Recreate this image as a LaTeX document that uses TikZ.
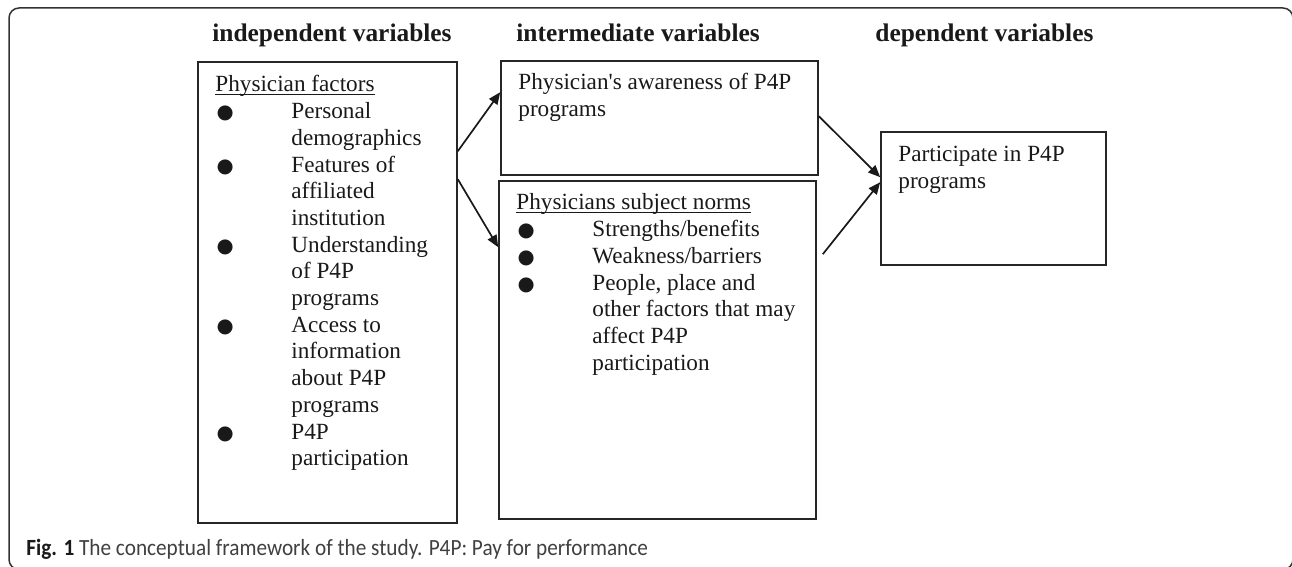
\documentclass[tikz,border=0pt]{standalone}
\usepackage{fontspec}
\setmainfont{Liberation Serif}
\newfontfamily\capfont[FakeStretch=0.916]{Carlito}
\newfontfamily\bulfont{DejaVu Sans}
\usepackage{tikz}
\usetikzlibrary{arrows.meta}
\usetikzlibrary{fit}

\newcommand{\undl}[1]{\leavevmode{\setbox0\hbox{#1}\rlap{\rule[-1.6pt]{\wd0}{0.55pt}}\box0}}
\newcommand{\bul}{\makebox[38pt][l]{\hspace{0.6pt}{\bulfont\fontsize{9.8pt}{10pt}\selectfont\char"25CF}}}
\newcommand{\ind}{\hspace*{38pt}}
\newcommand{\bodyfont}{\fontsize{11.6pt}{13.35pt}\selectfont}

\begin{document}
\begin{tikzpicture}[x=0.5pt,y=-0.5pt,box/.style={draw=black!85,line width=0.8pt,inner sep=0pt},frame/.style={draw=black!80,line width=0.75pt,rounded corners=5pt,inner sep=0pt},txt/.style={inner sep=0pt,anchor=base west,font=\bodyfont,text=black!90},head/.style={inner sep=0pt,anchor=base west,font=\fontsize{12.7pt}{14pt}\selectfont\bfseries,text=black!90},arr/.style={line width=0.85pt,black!90,-{Triangle[length=6pt,width=5pt]}}]

	\useasboundingbox (0,0) rectangle (1292,567);
	\node[frame,fit={(9,8) (1293,569.5)}] (border) {};
	
	\node[head] (hindep) at (212,42) {independent variables};
	\node[head] (hinter) at (516,42) {intermediate variables};
	\node[head] (hdep) at (875,42) {dependent variables};
	
	\node[box,fit={(198,62) (457,523)}] (indep) {};
	\node[box,fit={(501,61) (818,175)}] (aware) {};
	\node[box,fit={(499,181) (816,519)}] (norms) {};
	\node[box,fit={(881,132) (1106,265)}] (partic) {};
	
	\node[txt] (indeptext) at (215,92) {\parbox[t]{118pt}{\bodyfont\noindent
		\undl{Physician factors}\\
		\bul Personal\\
		\ind demographics\\
		\bul Features of\\
		\ind affiliated\\
		\ind institution\\
		\bul Understanding\\
		\ind of P4P\\
		\ind programs\\
		\bul Access to\\
		\ind information\\
		\ind about P4P\\
		\ind programs\\
		\bul P4P\\
		\ind participation}};
	\node[txt] (awaretext) at (518,90) {\parbox[t]{150pt}{\bodyfont\noindent
		Physician\textquotesingle s awareness of P4P\\
		programs}};
	\node[txt] (normstext) at (516,210) {\parbox[t]{150pt}{\bodyfont\noindent
		\undl{Physicians subject norms}\\
		\bul Strengths/benefits\\
		\bul Weakness/barriers\\
		\bul People, place and\\
		\ind other factors that may\\
		\ind affect P4P\\
		\ind participation}};
	\node[txt] (partictext) at (898,162) {\parbox[t]{100pt}{\bodyfont\noindent
		Participate in P4P\\
		programs}};
	
	\draw[arr] ([yshift=-45pt]indep.north east) -- ([yshift=-16pt]aware.north west);
	\draw[arr] ([yshift=-59pt]indep.north east) -- ([yshift=-33.5pt]norms.north west);
	\draw[arr] ([yshift=-28pt]aware.north east) -- ([yshift=-23pt]partic.north west);
	\draw[arr] ([xshift=3pt,yshift=-37pt]norms.north east) -- ([yshift=-25.5pt]partic.north west);
	
	\node[inner sep=0pt,anchor=base west,text=black!75] (caption) at (26,555) {\capfont\fontsize{11.6pt}{13pt}\selectfont\textcolor{black!90}{\textbf{Fig. 1}} The conceptual framework of the study. P4P: Pay for performance};
\end{tikzpicture}
\end{document}
